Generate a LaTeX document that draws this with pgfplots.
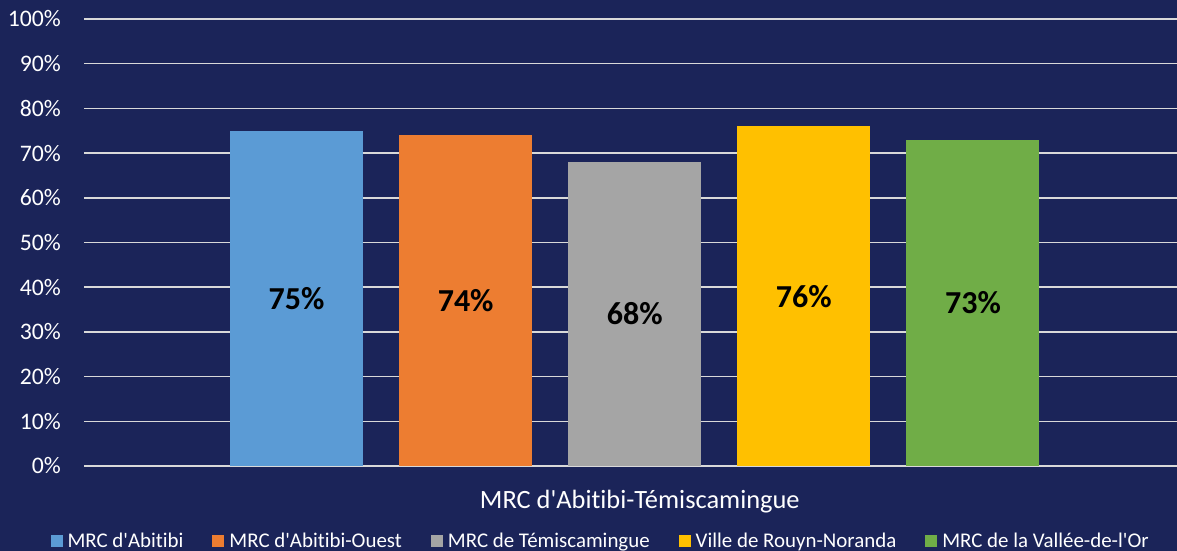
\documentclass[border=0pt]{standalone}
\usepackage{pgfplots}
\pgfplotsset{compat=1.18}
\usepackage{fontspec}
\setmainfont{Carlito}[Ligatures={TeXOff,CommonOff}]
\definecolor{bg}{HTML}{1B2459}
\definecolor{gridc}{HTML}{D9D9D9}
\definecolor{c1}{HTML}{5B9BD5}
\definecolor{c2}{HTML}{ED7D31}
\definecolor{c3}{HTML}{A5A5A5}
\definecolor{c4}{HTML}{FFC000}
\definecolor{c5}{HTML}{70AD47}
\begin{document}
\begin{tikzpicture}
\fill[bg] (0,0) rectangle (1177pt,551pt);
\useasboundingbox (0,0) rectangle (1177pt,551pt);
\begin{axis}[
  at={(84pt,85pt)}, anchor=south west,
  scale only axis, width=1093pt, height=447pt,
  xmin=-1.257, xmax=5.207, ymin=0, ymax=100,
  axis line style={draw=none},
  major tick length=0pt,
  ymajorgrids, grid style={gridc, line width=1.5pt},
  ytick={0,10,...,100},
  yticklabels={0\%,10\%,20\%,30\%,40\%,50\%,60\%,70\%,80\%,90\%,100\%},
  yticklabel style={font=\fontsize{23.7}{28}\selectfont, text=white, inner sep=0pt, xshift=-23pt},
  xtick={2.03}, xticklabels={MRC d'Abitibi-Témiscamingue},
  xticklabel style={font=\fontsize{26.4}{30}\selectfont, text=white, anchor=base, inner sep=0pt, yshift=-42pt},
  ybar, bar width=133pt,
  visualization depends on={y \as \rawy},
  nodes near coords={\pgfmathprintnumber{\pgfplotspointmeta}\%},
  nodes near coords align=center,
  every node near coord/.append style={font=\fontsize{32}{36}\selectfont\bfseries, text=black, shift={(axis direction cs:0,-\rawy/2)}},
  /pgf/number format/assume math mode=true,
  legend columns=5,
  legend style={at={(0.4717,-0.168)}, anchor=center, draw=none, fill=none, text=white,
    font=\fontsize{20.9}{24}\selectfont,
    nodes={inner sep=0pt},
    /tikz/every even column/.append style={column sep=29pt},
    /tikz/every odd column/.append style={column sep=5pt}},
  legend image code/.code={\fill[#1] (0pt,-6pt) rectangle (12pt,6pt);},
]
\addplot[fill=c1, draw=none, bar shift=0pt] coordinates {(0,75)};
\addplot[fill=c2, draw=none, bar shift=0pt] coordinates {(1,74)};
\addplot[fill=c3, draw=none, bar shift=0pt] coordinates {(2,68)};
\addplot[fill=c4, draw=none, bar shift=0pt] coordinates {(3,76)};
\addplot[fill=c5, draw=none, bar shift=0pt] coordinates {(4,73)};
\legend{MRC d'Abitibi, MRC d'Abitibi-Ouest, MRC de Témiscamingue, Ville de Rouyn-Noranda, MRC de la Vallée-de-l'Or}
\end{axis}
\end{tikzpicture}
\end{document}
